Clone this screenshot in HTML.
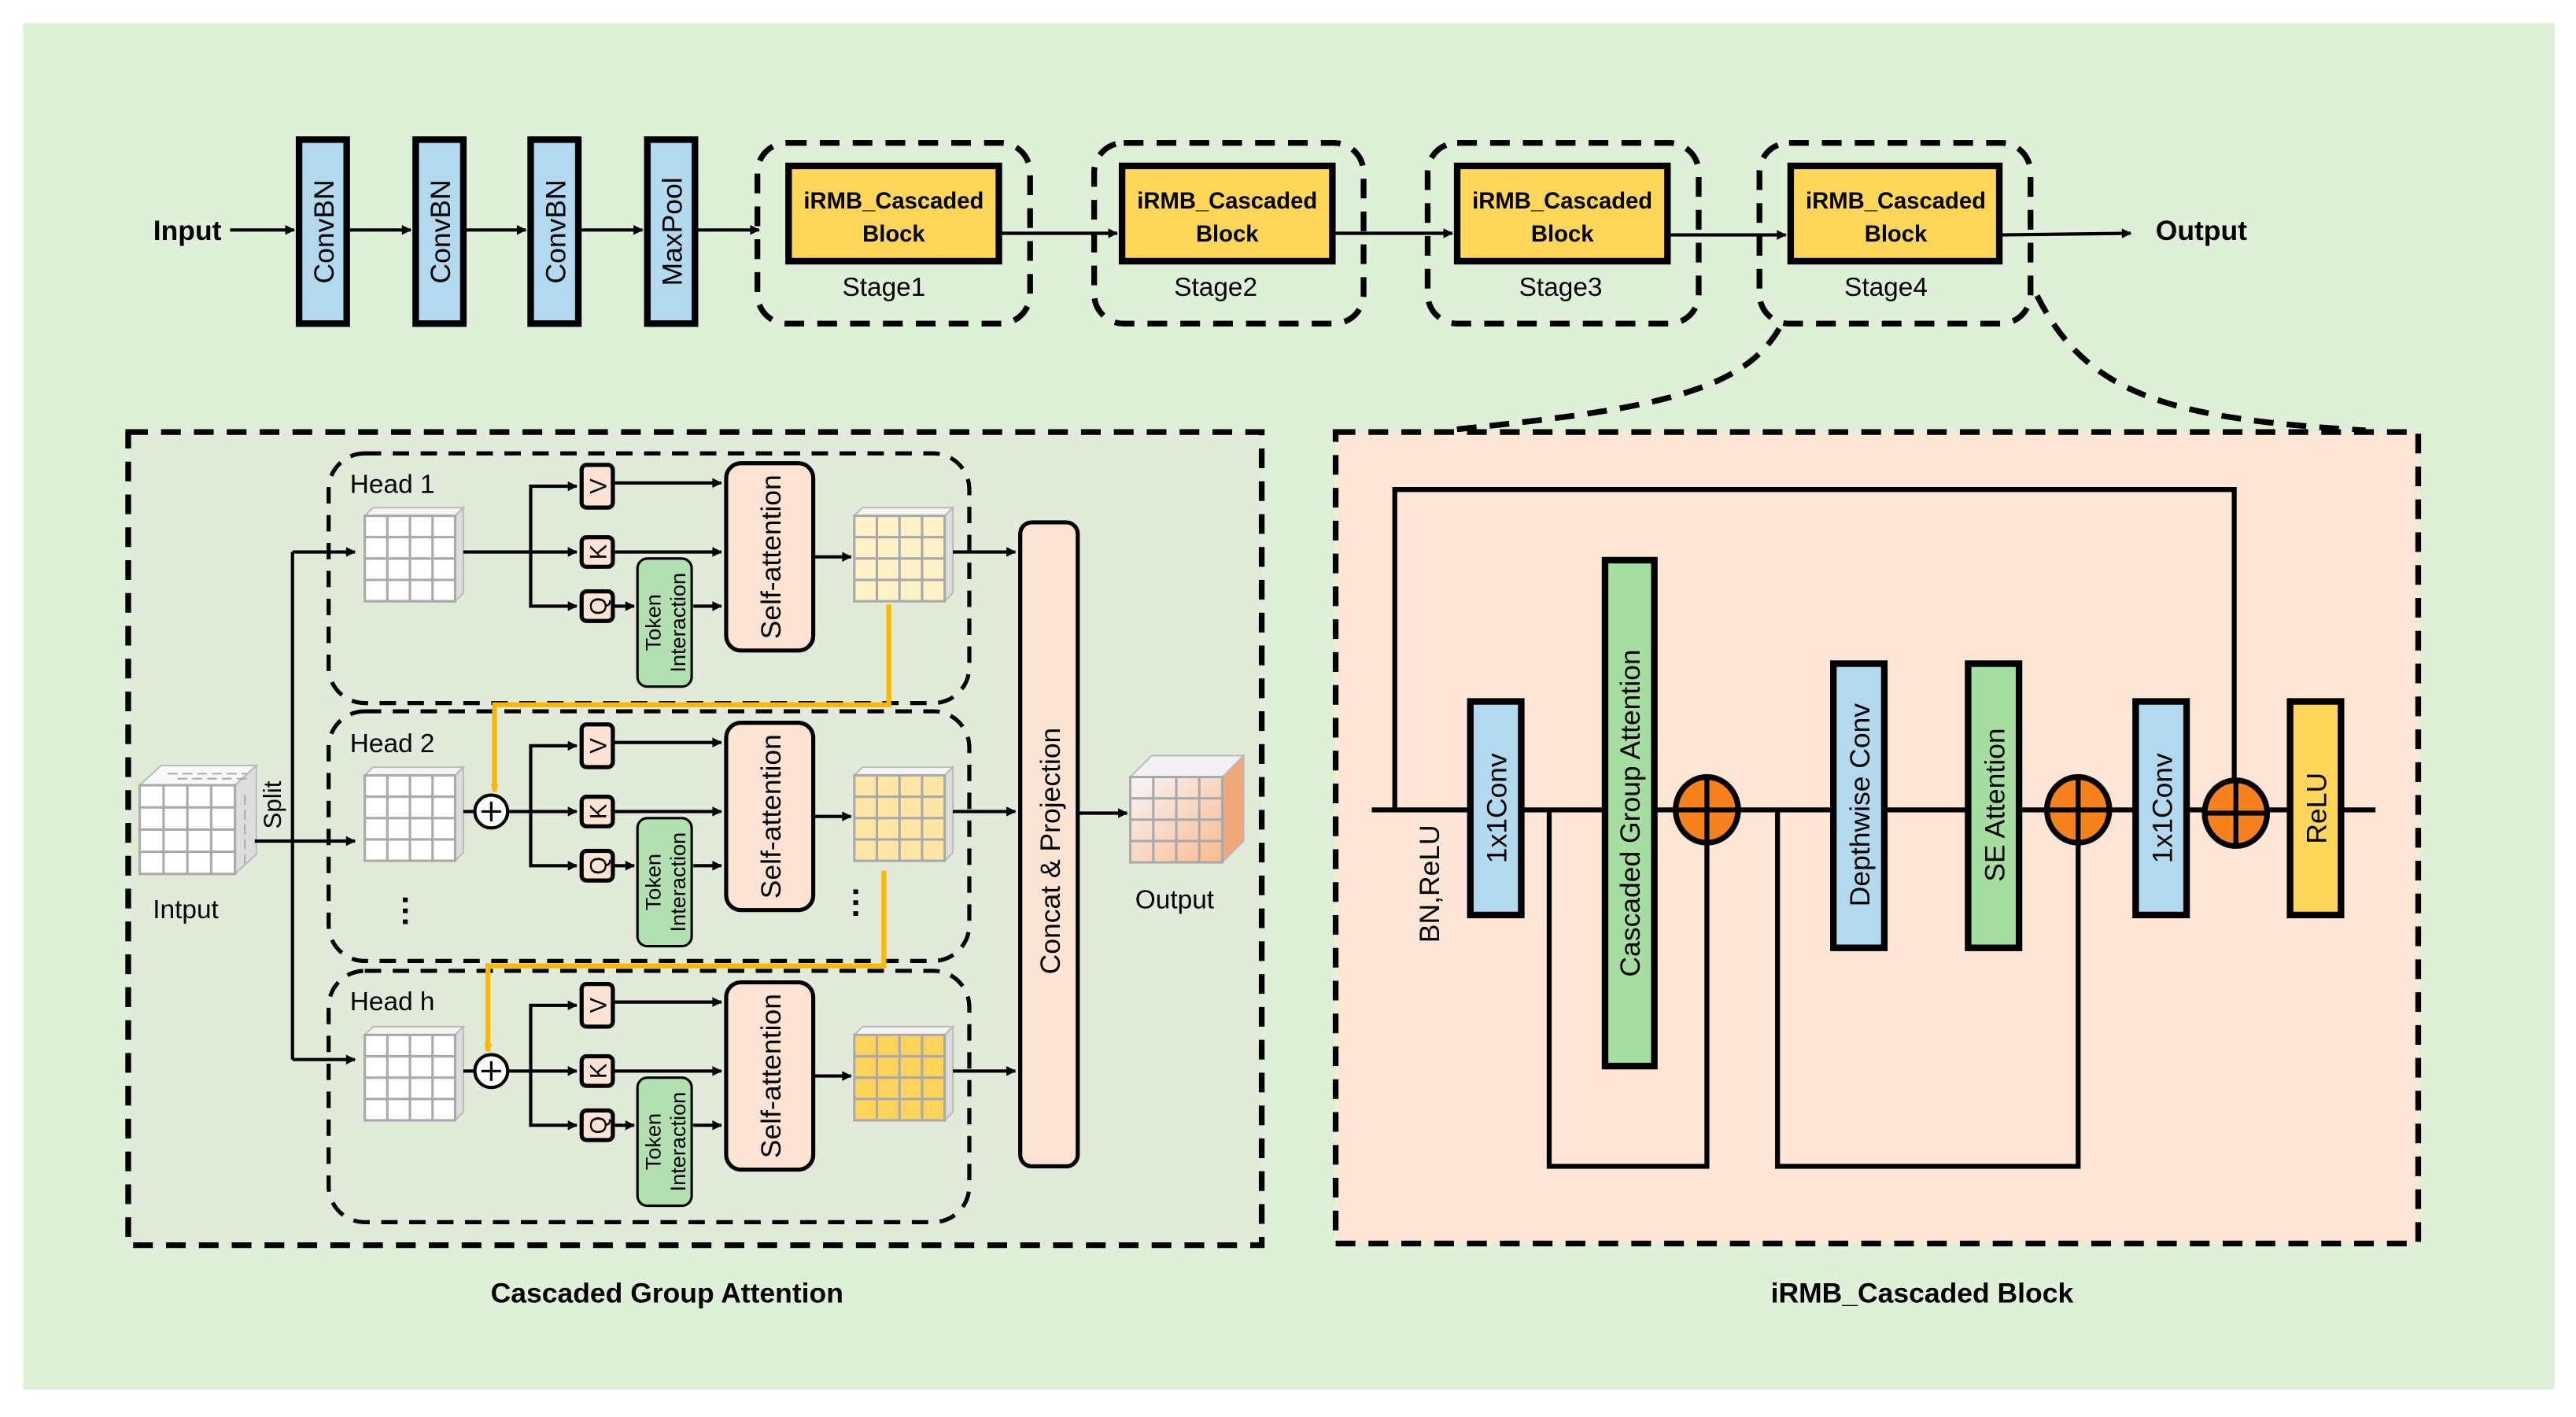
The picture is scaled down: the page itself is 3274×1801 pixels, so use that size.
<!DOCTYPE html>
<html><head><meta charset="utf-8"><style>
html,body{margin:0;padding:0;background:#fff;}
svg{display:block;}
text{font-family:"Liberation Sans",Arial,sans-serif;}
</style></head><body>
<svg width="3274" height="1801" viewBox="0 0 1568 862.6" xmlns="http://www.w3.org/2000/svg">
<defs>
<marker id="ar" viewBox="0 0 10 10" refX="9" refY="5" markerWidth="6.5" markerHeight="6" orient="auto" markerUnits="userSpaceOnUse">
<path d="M0,0 L10,5 L0,10 z" fill="#000"/></marker>
<marker id="ary" viewBox="0 0 10 10" refX="9" refY="5" markerWidth="5" markerHeight="5" orient="auto" markerUnits="userSpaceOnUse">
<path d="M0,0 L10,5 L0,10 z" fill="#fbb800"/></marker>
<g id="grid">
<polygon points="0,5 5,0 60,0 55,5" fill="#f4f4f4" stroke="#bbb" stroke-width="1"/>
<polygon points="55,5 60,0 60,52 55,57" fill="#ddd" stroke="#bbb" stroke-width="1"/>
<rect x="0" y="5" width="55" height="52" stroke="#aaa" stroke-width="1.5"/>
<path d="M13.75,5V57M27.5,5V57M41.25,5V57M0,18H55M0,31H55M0,44H55" stroke="#aaa" stroke-width="1.5" fill="none"/>
</g>
<linearGradient id="og" x1="0" y1="0" x2="1" y2="1"><stop offset="0" stop-color="#f6f6fa"/><stop offset="1" stop-color="#fbb98e"/></linearGradient>
</defs>
<rect x="0" y="0" width="1568" height="862.6" fill="#fff"/>
<rect x="14" y="14" width="1541" height="832" fill="#dff0d8"/>

<!-- Top row -->
<g stroke="#000" stroke-width="2" fill="none" marker-end="url(#ar)">
<line x1="140" y1="140" x2="179" y2="140"/>
<line x1="213" y1="140" x2="250" y2="140"/>
<line x1="284" y1="140" x2="320" y2="140"/>
<line x1="354" y1="140" x2="391" y2="140"/>
<line x1="425" y1="140" x2="462" y2="140"/>
<line x1="609" y1="142" x2="680" y2="142"/>
<line x1="812" y1="142" x2="884" y2="142"/>
<line x1="1016" y1="143" x2="1087" y2="143"/>
<line x1="1218" y1="143" x2="1297" y2="142"/>
</g>
<text x="114" y="146" font-size="17" font-weight="bold" text-anchor="middle">Input</text>
<text x="1340" y="146" font-size="17" font-weight="bold" text-anchor="middle">Output</text>
<g fill="#b3d9ee" stroke="#000" stroke-width="4">
<rect x="182" y="85" width="29" height="112"/>
<rect x="253" y="85" width="29" height="112"/>
<rect x="323" y="85" width="29" height="112"/>
<rect x="394" y="85" width="29" height="112"/>
</g>
<g font-size="17" text-anchor="middle">
<text transform="translate(203,141) rotate(-90)">ConvBN</text>
<text transform="translate(274,141) rotate(-90)">ConvBN</text>
<text transform="translate(344,141) rotate(-90)">ConvBN</text>
<text transform="translate(415,141) rotate(-90)">MaxPool</text>
</g>
<g fill="none" stroke="#000" stroke-width="3.5" stroke-dasharray="12,8">
<rect x="461" y="87" width="166" height="110" rx="18"/>
<rect x="666" y="87" width="164" height="110" rx="18"/>
<rect x="869" y="87" width="165" height="110" rx="18"/>
<rect x="1071" y="87" width="165" height="110" rx="18"/>
<path d="M1083,200 C1060,240 1000,250 880,262"/>
<path d="M1240,180 C1270,240 1320,255 1440,262"/>
</g>
<g fill="#fed75a" stroke="#000" stroke-width="4">
<rect x="480" y="101" width="128" height="58"/>
<rect x="683" y="101" width="128" height="58"/>
<rect x="887" y="101" width="128" height="58"/>
<rect x="1090" y="101" width="127" height="58"/>
</g>
<g font-size="14" font-weight="bold" text-anchor="middle">
<text x="544" y="127">iRMB_Cascaded</text><text x="544" y="147">Block</text>
<text x="747" y="127">iRMB_Cascaded</text><text x="747" y="147">Block</text>
<text x="951" y="127">iRMB_Cascaded</text><text x="951" y="147">Block</text>
<text x="1154" y="127">iRMB_Cascaded</text><text x="1154" y="147">Block</text>
</g>
<g font-size="16" text-anchor="middle">
<text x="538" y="180">Stage1</text><text x="740" y="180">Stage2</text>
<text x="950" y="180">Stage3</text><text x="1148" y="180">Stage4</text>
</g>

<!-- Left panel -->
<rect x="78" y="263" width="690" height="495" fill="#e2ead9" stroke="#000" stroke-width="3.5" stroke-dasharray="12,8"/>
<g fill="none" stroke="#000" stroke-width="2.5" stroke-dasharray="10,7">
<rect x="200" y="276" width="390" height="152" rx="22"/>
<rect x="200" y="433" width="390" height="152" rx="22"/>
<rect x="200" y="591" width="390" height="153" rx="22"/>
</g>
<g>
<polygon points="85,478 98,466 156,466 143,478" fill="#f8f8f8" stroke="#bbb"/>
<polygon points="143,478 156,466 156,520 143,532" fill="#ddd" stroke="#bbb"/>
<rect x="85" y="478" width="58" height="54" fill="#fff" stroke="#aaa" stroke-width="1.5"/>
<path d="M99.5,478V532M114,478V532M128.5,478V532M85,491.5H143M85,505H143M85,518.5H143" stroke="#aaa" stroke-width="1.5"/>
<path d="M102,471H150M108,474H150M149,484V528" stroke="#aaa" stroke-dasharray="6,3"/>
</g>
<text x="113" y="559" font-size="16" text-anchor="middle">Intput</text>
<text transform="translate(171,490) rotate(-90)" font-size="15" text-anchor="middle">Split</text>
<g stroke="#000" stroke-width="2" fill="none">
<line x1="178" y1="336" x2="178" y2="645"/>
<line x1="155" y1="512" x2="216" y2="512" marker-end="url(#ar)"/>
<line x1="178" y1="336" x2="216" y2="336" marker-end="url(#ar)"/>
<line x1="178" y1="645" x2="216" y2="645" marker-end="url(#ar)"/>
</g>

<g font-size="16">
<text x="213" y="300">Head 1</text><text x="213" y="458">Head 2</text><text x="213" y="615">Head h</text>
</g>
<use href="#grid" x="222" y="309" fill="#fff"/>
<use href="#grid" x="222" y="467" fill="#fff"/>
<use href="#grid" x="222" y="625" fill="#fff"/>
<use href="#grid" x="520" y="309" fill="#fff1c8"/>
<use href="#grid" x="520" y="467" fill="#fde6a6"/>
<use href="#grid" x="520" y="625" fill="#fdd35c"/>

<g id="head1">
<g stroke="#000" stroke-width="2" fill="none">
<line x1="282" y1="336" x2="351" y2="336" marker-end="url(#ar)"/>
<polyline points="323,336 323,296 351,296" marker-end="url(#ar)"/>
<polyline points="323,336 323,369 351,369" marker-end="url(#ar)"/>
<line x1="374" y1="294" x2="439" y2="294" marker-end="url(#ar)"/>
<line x1="374" y1="336" x2="439" y2="336" marker-end="url(#ar)"/>
<line x1="374" y1="369" x2="386" y2="369" marker-end="url(#ar)"/>
<line x1="422" y1="369" x2="439" y2="369" marker-end="url(#ar)"/>
<line x1="496" y1="339" x2="518" y2="339" marker-end="url(#ar)"/>
<line x1="580" y1="336" x2="618" y2="336" marker-end="url(#ar)"/>
</g>
<g fill="#fde3d3" stroke="#000" stroke-width="2.5">
<rect x="354" y="283" width="19" height="26" rx="3"/>
<rect x="354" y="327" width="19" height="18" rx="3"/>
<rect x="354" y="360" width="19" height="18" rx="3"/>
<rect x="442" y="282" width="53" height="114" rx="9"/>
</g>
<rect x="388" y="340" width="33" height="78" rx="6" fill="#b3e0b0" stroke="#000" stroke-width="1.5"/>
<g text-anchor="middle">
<text transform="translate(369,296) rotate(-90)" font-size="14">V</text>
<text transform="translate(369,336) rotate(-90)" font-size="14">K</text>
<text transform="translate(369,369) rotate(-90)" font-size="14">Q</text>
<text transform="translate(402,379) rotate(-90)" font-size="13">Token</text>
<text transform="translate(417,379) rotate(-90)" font-size="13">Interaction</text>
<text transform="translate(475,339) rotate(-90)" font-size="17">Self-attention</text>
</g>
</g>
<use href="#head1" y="158"/>
<use href="#head1" y="316"/>
<g fill="#fff" stroke="#000" stroke-width="2">
<circle cx="299" cy="494" r="10"/><circle cx="299" cy="652" r="10"/>
</g>
<g stroke="#000" stroke-width="1.5"><path d="M293,494H305M299,488V500M293,652H305M299,646V658"/></g>
<g stroke="#fbb800" stroke-width="3" fill="none">
<polyline points="541,368 541,429 301,429 301,482" marker-end="url(#ary)"/>
<polyline points="538,530 538,588 297,588 297,640" marker-end="url(#ary)"/>
</g>
<g font-size="20" font-weight="bold" text-anchor="middle">
<text transform="translate(246,555) rotate(90)" x="0" y="6">···</text>
<text transform="translate(520,550) rotate(90)" x="0" y="6">···</text>
</g>
<rect x="621" y="318" width="35" height="392" rx="7" fill="#fde3d3" stroke="#000" stroke-width="2.5"/>
<text transform="translate(645,518) rotate(-90)" font-size="17" text-anchor="middle">Concat &amp; Projection</text>
<line x1="656" y1="495" x2="686" y2="495" stroke="#000" stroke-width="2" marker-end="url(#ar)"/>
<polygon points="688,473 701,460 757,460 744,473" fill="#f3f0f4" stroke="#bbb"/>
<polygon points="744,473 757,460 757,512 744,525" fill="#f0a87a" stroke="#bbb"/>
<rect x="688" y="473" width="56" height="52" fill="url(#og)" stroke="#aaa" stroke-width="1.5"/>
<path d="M702,473V525M716,473V525M730,473V525M688,486H744M688,499H744M688,512H744" stroke="#aaa" stroke-width="1.5"/>
<text x="715" y="553" font-size="16" text-anchor="middle">Output</text>

<!-- Right panel -->
<rect x="813" y="263" width="659" height="494" fill="#fde6d6" stroke="#000" stroke-width="3.5" stroke-dasharray="12,8"/>
<g stroke="#000" stroke-width="3" fill="none">
<line x1="835" y1="493" x2="1446" y2="493"/>
<polyline points="849,493 849,298 1360,298 1360,493"/>
<polyline points="943,493 943,710 1039,710 1039,493"/>
<polyline points="1082,493 1082,710 1265,710 1265,493"/>
</g>
<g stroke="#000" stroke-width="4">
<rect x="895" y="427" width="31" height="130" fill="#b3d9ee"/>
<rect x="977" y="341" width="30" height="308" fill="#a5dea0"/>
<rect x="1116" y="404" width="31" height="173" fill="#b3d9ee"/>
<rect x="1198" y="404" width="31" height="173" fill="#a5dea0"/>
<rect x="1300" y="427" width="31" height="130" fill="#b3d9ee"/>
<rect x="1394" y="427" width="31" height="130" fill="#fed75a"/>
</g>
<g fill="#f7811d" stroke="#000" stroke-width="3.5">
<ellipse cx="1039" cy="493" rx="19" ry="20"/>
<ellipse cx="1265" cy="493" rx="19" ry="20"/>
<ellipse cx="1361" cy="495" rx="19" ry="20"/>
</g>
<g stroke="#000" stroke-width="3"><path d="M1020,493H1058M1039,473V513M1246,493H1284M1265,473V513M1342,495H1380M1361,475V515"/></g>
<g font-size="17" text-anchor="middle">
<text transform="translate(917,492) rotate(-90)">1x1Conv</text>
<text transform="translate(998,495) rotate(-90)">Cascaded Group Attention</text>
<text transform="translate(1138,490) rotate(-90)">Depthwise Conv</text>
<text transform="translate(1220,490) rotate(-90)">SE Attention</text>
<text transform="translate(1322,492) rotate(-90)">1x1Conv</text>
<text transform="translate(1416,492) rotate(-90)">ReLU</text>
<text transform="translate(876,538) rotate(-90)">BN,ReLU</text>
</g>

<text x="406" y="793" font-size="17" font-weight="bold" text-anchor="middle">Cascaded Group Attention</text>
<text x="1170" y="793" font-size="17" font-weight="bold" text-anchor="middle">iRMB_Cascaded Block</text>
</svg>
</body></html>
